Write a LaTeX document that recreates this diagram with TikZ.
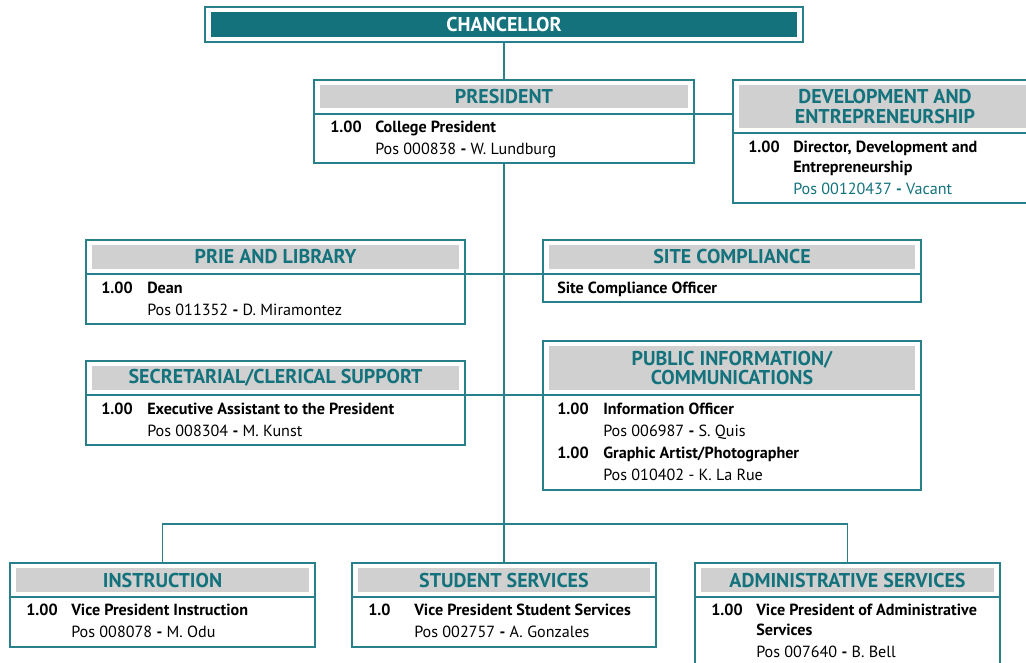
\documentclass[tikz,border=0pt]{standalone}
\usepackage{fontspec}
\setmainfont{PT Sans}
\usepackage{tikz}
\usetikzlibrary{fit}

\definecolor{tealdark}{RGB}{19,114,124}
\definecolor{tealline}{RGB}{40,128,138}
\definecolor{headgray}{RGB}{208,208,208}

\tikzset{
  unitbox/.style={draw=tealline, line width=0.8pt, inner sep=0pt},
  headbar/.style={fill=headgray, inner sep=0pt},
  headtext/.style={inner sep=0pt, text=tealdark, align=center,
    font=\bfseries\fontsize{15}{15}\selectfont},
  link/.style={draw=tealline, line width=1pt},
  num/.style={anchor=base west, inner sep=0pt, yshift=-1.2pt, font=\bfseries\fontsize{12.1}{12}\selectfont},
  role/.style={anchor=base west, inner sep=0pt, yshift=-1.2pt, font=\bfseries\fontsize{12.1}{12}\selectfont},
  posn/.style={anchor=base west, inner sep=0pt, yshift=-1.2pt, font=\fontsize{12.1}{12}\selectfont}
}

\begin{document}
\begin{tikzpicture}[x=0.75pt,y=0.75pt,yscale=-1]
\useasboundingbox (0,0) rectangle (1026,663);

% Chancellor
\node [unitbox, fit={(205,7) (803,42)}] (chanbox) {};
\node [fill=tealdark, inner sep=0pt, fit={(211,12) (797,37)}] (chan) {};
\node [headtext, text=white] (chant) at (chan.center) {CHANCELLOR};

% President
\node [unitbox, fit={(314,80) (694,163)}] (pres) {};
\node [headbar, fit={(320,85) (688,108)}] (presh) {};
\node [headtext] (prest) at (presh.center) {PRESIDENT};
\coordinate (presdiv) at (0,114);
\draw [link] (pres.west |- presdiv) -- (pres.east |- presdiv);
% Text Node
\node [num] (presn) at (330,131) {1.00};
\node [role] (presr) at (375,131) {College President};
\node [posn] (presp) at (375,153) {Pos 000838 \textbf{-} W. Lundburg};

% Development
\node [unitbox, fit={(733,80) (1037,203)}] (dev) {};
\node [headbar, fit={(739,85) (1031,128)}] (devh) {};
\node [headtext] (devt) at (devh.center) {DEVELOPMENT AND\\ENTREPRENEURSHIP};
\coordinate (devdiv) at (0,133);
\draw [link] (dev.west |- devdiv) -- (dev.east |- devdiv);
% Text Node
\node [num] (devn) at (748,151) {1.00};
\node [role] (devr) at (793,151) {Director, Development and};
\node [role] (devr2) at (793,171) {Entrepreneurship};
\node [posn, text=tealdark] (devp) at (793,193) {Pos 00120437 \textbf{-} Vacant};

% Prie and library
\node [unitbox, fit={(86,240) (465,324)}] (prie) {};
\node [headbar, fit={(92,245) (459,269)}] (prieh) {};
\node [headtext] (priet) at (prieh.center) {PRIE AND LIBRARY};
\coordinate (midone) at (0,274);
\draw [link] (prie.west |- midone) -- (prie.east |- midone);
% Text Node
\node [num] (prien) at (101,292) {1.00};
\node [role] (prier) at (147,292) {Dean};
\node [posn] (priep) at (147,314) {Pos 011352 \textbf{-} D. Miramontez};

% Site compliance
\node [unitbox, fit={(543,240) (921,302)}] (site) {};
\node [headbar, fit={(549,245) (915,269)}] (siteh) {};
\node [headtext] (sitet) at (siteh.center) {SITE COMPLIANCE};
\draw [link] (site.west |- midone) -- (site.east |- midone);
% Text Node
\node [role] (siter) at (557,292) {Site Compliance Officer};

% Secretarial
\node [unitbox, fit={(86,361) (465,445)}] (sec) {};
\node [headbar, fit={(92,366) (459,390)}] (sech) {};
\node [headtext] (sect) at (sech.center) {SECRETARIAL/CLERICAL SUPPORT};
\coordinate (midtwo) at (0,395);
\draw [link] (sec.west |- midtwo) -- (sec.east |- midtwo);
% Text Node
\node [num] (secn) at (101,413) {1.00};
\node [role] (secr) at (147,413) {Executive Assistant to the President};
\node [posn] (secp) at (147,435) {Pos 008304 \textbf{-} M. Kunst};

% Public information
\node [unitbox, fit={(543,341) (921,490)}] (pub) {};
\node [headbar, fit={(549,346) (915,390)}] (pubh) {};
\node [headtext] (pubt) at (pubh.center) {PUBLIC INFORMATION/\\COMMUNICATIONS};
\draw [link] (pub.west |- midtwo) -- (pub.east |- midtwo);
% Text Node
\node [num] (pubn) at (557,413) {1.00};
\node [role] (pubr) at (603,413) {Information Officer};
\node [posn] (pubp) at (603,435) {Pos 006987 \textbf{-} S. Quis};
\node [num] (pubn2) at (557,457) {1.00};
\node [role] (pubr2) at (603,457) {Graphic Artist/Photographer};
\node [posn] (pubp2) at (603,479) {Pos 010402 - K. La Rue};

% Instruction
\node [unitbox, fit={(10,563) (315,647)}] (inst) {};
\node [headbar, fit={(16,568) (309,592)}] (insth) {};
\node [headtext] (instt) at (insth.center) {INSTRUCTION};
\coordinate (lowdiv) at (0,597);
\draw [link] (inst.west |- lowdiv) -- (inst.east |- lowdiv);
% Text Node
\node [num] (instn) at (26,614) {1.00};
\node [role] (instr) at (71,614) {Vice President Instruction};
\node [posn] (instp) at (71,636) {Pos 008078 \textbf{-} M. Odu};

% Student services
\node [unitbox, fit={(352,563) (656,647)}] (stu) {};
\node [headbar, fit={(358,568) (650,592)}] (stuh) {};
\node [headtext] (stut) at (stuh.center) {STUDENT SERVICES};
\draw [link] (stu.west |- lowdiv) -- (stu.east |- lowdiv);
% Text Node
\node [num] (stun) at (368,614) {1.0};
\node [role] (stur) at (414,614) {Vice President Student Services};
\node [posn] (stup) at (414,636) {Pos 002757 \textbf{-} A. Gonzales};

% Administrative services
\node [unitbox, fit={(695,563) (1000,672)}] (adm) {};
\node [headbar, fit={(701,568) (994,592)}] (admh) {};
\node [headtext] (admt) at (admh.center) {ADMINISTRATIVE SERVICES};
\draw [link] (adm.west |- lowdiv) -- (adm.east |- lowdiv);
% Text Node
\node [num] (admn) at (711,614) {1.00};
\node [role] (admr) at (756,614) {Vice President of Administrative};
\node [role] (admr2) at (756,634) {Services};
\node [posn] (admp) at (756,656) {Pos 007640 \textbf{-} B. Bell};

% Connectors
\coordinate (bus) at (504,524);
\draw [link] (chanbox.south) -- (pres.north);
\draw [link] (pres.east |- presdiv) -- (dev.west |- presdiv);
\draw [link] (pres.south) -- (stu.north);
\draw [link] (prie.east |- midone) -- (site.west |- midone);
\draw [link] (sec.east |- midtwo) -- (pub.west |- midtwo);
\draw [link] (inst.north) |- (bus) -| (adm.north);

\end{tikzpicture}
\end{document}
